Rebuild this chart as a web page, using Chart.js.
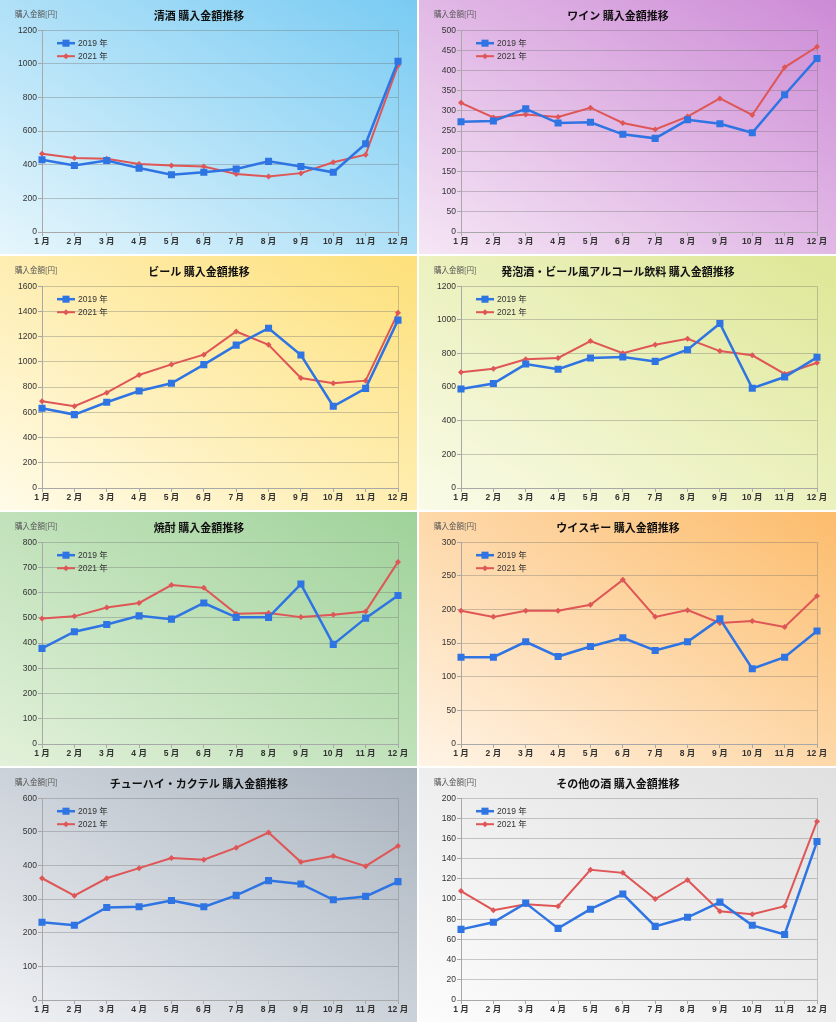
<!DOCTYPE html>
<html>
<head>
<meta charset="utf-8">
<script src="https://cdn.jsdelivr.net/npm/chart.js@4.4.1/dist/chart.umd.min.js"></script>
<style>
  body { margin: 0; background: #fff; }
  #grid {
    display: grid;
    grid-template-columns: 417px 417px;
    grid-template-rows: repeat(4, 254px);
    gap: 2px;
    width: 836px;
  }
  .cell canvas { display: block; }
  .bg0 { background: linear-gradient(to bottom left, #79cbf3, #e6f6fc); }
  .bg1 { background: linear-gradient(to bottom left, #cd8bd6, #f5e6f5); }
  .bg2 { background: linear-gradient(to bottom left, #fde07a, #fffbe8); }
  .bg3 { background: linear-gradient(to bottom left, #dde795, #fafbe8); }
  .bg4 { background: linear-gradient(to bottom left, #9fd29a, #e2f1da); }
  .bg5 { background: linear-gradient(to bottom left, #fcbc6c, #fff4e6); }
  .bg6 { background: linear-gradient(to bottom left, #a9b3be, #eff1f4); }
  .bg7 { background: linear-gradient(to bottom left, #e0e0e0, #fcfcfc); }
</style>
</head>
<body>
<div id="grid"></div>
<script>
const months = ['1 月', '2 月', '3 月', '4 月', '5 月', '6 月', '7 月', '8 月', '9 月', '10 月', '11 月', '12 月'];
const seriesLabels = ['2019 年', '2021 年'];
const unitLabel = '購入金額[円]';

const titles = [
  '清酒 購入金額推移',
  'ワイン 購入金額推移',
  'ビール 購入金額推移',
  '発泡酒・ビール風アルコール飲料 購入金額推移',
  '焼酎 購入金額推移',
  'ウイスキー 購入金額推移',
  'チューハイ・カクテル 購入金額推移',
  'その他の酒 購入金額推移'
];
const yMax = [1200, 500, 1600, 1200, 800, 300, 600, 200];
const yStep = [200, 50, 200, 200, 100, 50, 100, 20];

const sake2019 = [430, 395, 425, 380, 340, 355, 375, 420, 390, 355, 525, 1015];
const sake2021 = [465, 440, 435, 405, 395, 390, 345, 330, 350, 415, 460, 990];
const wine2019 = [273, 275, 305, 270, 272, 242, 232, 278, 268, 246, 340, 430];
const wine2021 = [320, 284, 291, 285, 308, 270, 254, 286, 331, 290, 408, 459];
const beer2019 = [632, 582, 680, 769, 830, 978, 1133, 1267, 1054, 648, 790, 1331];
const beer2021 = [688, 648, 756, 896, 980, 1057, 1241, 1136, 872, 830, 851, 1389];
const happo2019 = [589, 621, 737, 706, 773, 779, 753, 822, 978, 593, 660, 777];
const happo2021 = [688, 709, 765, 773, 874, 802, 852, 887, 814, 789, 678, 745];
const shochu2019 = [379, 445, 474, 508, 495, 559, 502, 502, 634, 395, 499, 589];
const shochu2021 = [498, 506, 541, 559, 630, 619, 516, 519, 503, 512, 525, 722];
const whisky2019 = [129, 129, 152, 130, 145, 158, 139, 152, 186, 112, 129, 168];
const whisky2021 = [198, 189, 198, 198, 207, 244, 189, 199, 180, 183, 174, 220];
const chuhai2019 = [231, 222, 275, 277, 296, 277, 311, 355, 345, 298, 308, 352];
const chuhai2021 = [362, 310, 362, 392, 422, 417, 453, 498, 410, 428, 398, 458];
const other2019 = [70, 77, 96, 71, 90, 105, 73, 82, 97, 74, 65, 157];
const other2021 = [108, 89, 95, 93, 129, 126, 100, 119, 88, 85, 93, 177];

const values2019 = [sake2019, wine2019, beer2019, happo2019, shochu2019, whisky2019, chuhai2019, other2019];
const values2021 = [sake2021, wine2021, beer2021, happo2021, shochu2021, whisky2021, chuhai2021, other2021];

const BLUE = '#2f74e3';
const RED = '#df5656';
const GRID = 'rgba(110,110,110,0.35)';
const AXIS = '#a8a8a8';

Chart.defaults.font.family = '"Liberation Sans", "Noto Sans CJK JP", sans-serif';
Chart.defaults.color = '#333';

function drawMarker(ctx, style, r, x, y, color) {
  ctx.fillStyle = color;
  ctx.beginPath();
  if (style === 'rect') {
    const s = r * Math.SQRT1_2;
    ctx.rect(x - s, y - s, 2 * s, 2 * s);
  } else {
    ctx.moveTo(x, y - r); ctx.lineTo(x + r, y); ctx.lineTo(x, y + r); ctx.lineTo(x - r, y);
    ctx.closePath();
  }
  ctx.fill();
}

// legend with line + marker swatch, drawn inside the plot area
const lineLegend = {
  id: 'lineLegend',
  afterDraw(chart) {
    const { ctx, chartArea } = chart;
    ctx.save();
    chart.data.datasets.forEach((ds, i) => {
      const y = chartArea.top + 13 + i * 13;
      const x0 = chartArea.left + 15;
      ctx.strokeStyle = ds.borderColor;
      ctx.lineWidth = ds.borderWidth;
      ctx.beginPath(); ctx.moveTo(x0, y); ctx.lineTo(x0 + 18, y); ctx.stroke();
      drawMarker(ctx, ds.pointStyle, ds.pointRadius, x0 + 9, y, ds.borderColor);
      ctx.fillStyle = '#333';
      ctx.font = '8.5px "Liberation Sans", "Noto Sans CJK JP", sans-serif';
      ctx.textBaseline = 'middle';
      ctx.textAlign = 'left';
      ctx.fillText(ds.label, x0 + 21, y + 0.5);
    });
    ctx.restore();
  }
};

const unitText = {
  id: 'unitText',
  afterDraw(chart) {
    const ctx = chart.ctx;
    ctx.save();
    ctx.fillStyle = '#555';
    ctx.font = '7.5px "Noto Sans CJK JP", sans-serif';
    ctx.textBaseline = 'middle';
    ctx.fillText(unitLabel, 15, 14);
    ctx.restore();
  }
};

const grid = document.getElementById('grid');

titles.forEach((title, i) => {
  const cell = document.createElement('div');
  cell.className = 'cell bg' + i;
  const cv = document.createElement('canvas');
  cv.width = 417;
  cv.height = 254;
  cell.appendChild(cv);
  grid.appendChild(cell);

  new Chart(cv, {
    type: 'line',
    data: {
      labels: months,
      datasets: [
        {
          label: seriesLabels[0],
          data: values2019[i],
          borderColor: BLUE,
          backgroundColor: BLUE,
          borderWidth: 2.5,
          pointStyle: 'rect',
          pointRadius: 5,
          pointBorderWidth: 0,
          tension: 0
        },
        {
          label: seriesLabels[1],
          data: values2021[i],
          borderColor: RED,
          backgroundColor: RED,
          borderWidth: 2,
          pointStyle: 'rectRot',
          pointRadius: 3,
          pointBorderWidth: 0,
          tension: 0
        }
      ]
    },
    options: {
      responsive: false,
      animation: false,
      devicePixelRatio: 1,
      layout: { padding: { top: 9, left: 0, right: 19, bottom: 0 } },
      plugins: {
        legend: { display: false },
        tooltip: { enabled: false },
        title: {
          display: true,
          text: title,
          color: '#111',
          font: { size: 11, weight: 'bold', family: '"Noto Sans CJK JP", sans-serif' },
          padding: { top: 0, bottom: 8 }
        }
      },
      scales: {
        x: {
          offset: false,
          afterFit: s => { s.height = 22; },
          border: { color: AXIS, width: 1 },
          grid: {
            offset: false,
            color: c => c.index === months.length - 1 ? GRID : 'transparent',
            tickColor: AXIS,
            tickLength: 4
          },
          ticks: {
            padding: 1,
            maxRotation: 0,
            autoSkip: false,
            color: '#333',
            font: { size: 8.5, weight: 'bold' }
          }
        },
        y: {
          min: 0,
          max: yMax[i],
          afterFit: s => { s.width = 42; },
          border: { color: AXIS, width: 1 },
          grid: { color: GRID, tickColor: AXIS, tickLength: 4 },
          ticks: {
            stepSize: yStep[i],
            padding: 1,
            color: '#333',
            font: { size: 8.5 },
            callback: v => String(v)
          }
        }
      }
    },
    plugins: [lineLegend, unitText]
  });
});
</script>
</body>
</html>
